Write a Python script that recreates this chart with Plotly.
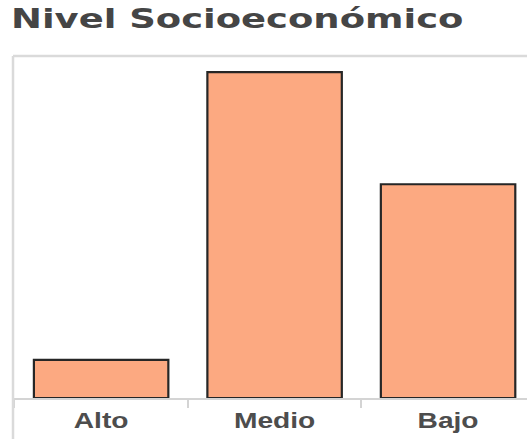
import plotly.graph_objects as go

# Socioeconomic level distribution (percent of respondents)
categories = ["Alto", "Medio", "Bajo"]
values = [6.6, 56.4, 37.0]
title_text = "Nivel Socioeconómico"

W, H = 527, 439

fig = go.Figure(
    go.Bar(
        x=categories,
        y=values,
        width=0.775,
        marker=dict(color="#FCA981", line=dict(color="#262626", width=2.2)),
        hoverinfo="skip",
    )
)

fig.update_layout(
    width=W,
    height=H,
    margin=dict(l=13, r=0, t=56, b=41),
    paper_bgcolor="white",
    plot_bgcolor="white",
    showlegend=False,
    title=dict(
        text=title_text,
        x=11 / W,
        xref="container",
        xanchor="left",
        y=1 - 19 / H,
        yref="container",
        yanchor="middle",
        font=dict(family="DejaVu Sans", size=26, color="#454545", weight="bold"),
    ),
    shapes=[
        # panel frame: left edge runs down past the category labels, plus the top edge
        dict(type="line", xref="paper", yref="paper", x0=0, x1=0, y0=-0.14, y1=1,
             line=dict(color="#dadada", width=2.5)),
        dict(type="line", xref="paper", yref="paper", x0=0, x1=1.02, y0=1, y1=1,
             line=dict(color="#dadada", width=2.5)),
    ],
)

fig.update_xaxes(
    range=[-0.508, 2.455],
    showline=True,
    linecolor="#d4d4d4",
    linewidth=1.5,
    ticks="outside",
    tickson="boundaries",
    ticklen=8,
    tickwidth=1.5,
    tickcolor="#d4d4d4",
    showgrid=False,
    fixedrange=True,
    ticklabelstandoff=2,
    tickfont=dict(family="Liberation Sans", size=22, color="#4d4d4d", weight="bold"),
)
fig.update_yaxes(range=[0, 59.2], visible=False, fixedrange=True)

# widen the title and category labels horizontally
stretch_js = """
var gd = document.getElementById('{plot_id}');
function widen(sel, k) {
  gd.querySelectorAll(sel).forEach(function (t) {
    var w = t.getComputedTextLength();
    t.setAttribute('lengthAdjust', 'spacingAndGlyphs');
    t.setAttribute('textLength', (w * k).toFixed(1));
  });
}
widen('text.gtitle', 1.42);
widen('.xtick text', 1.28);
"""

fig.write_html("out.html", config={"displayModeBar": False}, post_script=stretch_js)
